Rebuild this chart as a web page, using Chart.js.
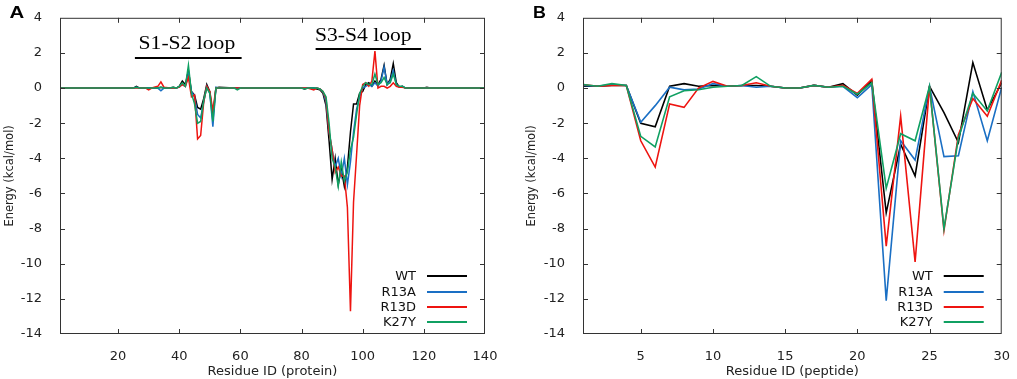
<!DOCTYPE html>
<html><head><meta charset="utf-8">
<script src="https://cdn.jsdelivr.net/npm/chart.js@4.4.1/dist/chart.umd.min.js"></script>
<style>
html,body{margin:0;padding:0;background:#fff;width:1017px;height:379px;overflow:hidden}
#a{position:absolute;left:0;top:0}
#b{position:absolute;left:505px;top:0}
</style></head><body>
<canvas id="a" width="505" height="379"></canvas>
<canvas id="b" width="512" height="379"></canvas>
<script>
// ---------- DATA ----------
const seriesNames = ['WT', 'R13A', 'R13D', 'K27Y'];
const yTicks = [-14, -12, -10, -8, -6, -4, -2, 0, 2, 4];
const xTicksA = [20, 40, 60, 80, 100, 120, 140];
const xTicksB = [5, 10, 15, 20, 25, 30];

// Panel A: residue (protein)
const residueA = [1, 24, 25, 26, 27, 29, 30, 31, 33, 34,
  35, 37, 38, 39, 40, 41, 42, 43, 44, 45,
  46, 47, 48, 49, 50, 51, 52, 53, 58, 59,
  60, 62, 80, 81, 82, 84, 85, 86, 87, 88,
  89, 90, 91, 92, 93, 94, 95, 96, 97, 98,
  99, 100, 101, 102, 103, 104, 105, 106, 107, 108,
  109, 110, 111, 112, 113, 114, 120, 121, 122, 140];
const wtA = [0, 0, 0, 0.1, 0, 0, 0, 0, 0, 0.05,
  0, 0, 0.05, 0, 0.1, 0.4, 0.2, 1.0, -0.2, -0.4,
  -1.1, -1.2, -0.6, 0.2, -0.2, -1.6, 0, 0.05, 0, 0,
  0, 0, 0, -0.05, 0, 0, -0.05, -0.1, -0.3, -1.0,
  -3.0, -5.2, -4.0, -5.5, -4.6, -5.6, -4.5, -2.5, -0.9, -0.9,
  -0.3, -0.2, 0.2, 0.3, 0.1, 0.4, 0.2, 0.5, 1.3, 0.2,
  0.5, 1.4, 0.3, 0.05, 0.1, 0, 0, 0.05, 0, 0];
const r13aA = [0, 0, 0, 0.05, 0, 0, 0, 0, 0, -0.15,
  0, 0, 0, 0, 0.05, 0.2, 0.1, 0.8, -0.2, -0.5,
  -1.5, -1.7, -0.8, 0.1, -0.3, -2.2, 0.05, 0, 0, 0,
  0, 0, 0, 0, 0, 0, 0, -0.05, -0.2, -0.8,
  -2.5, -3.5, -4.5, -4.0, -5.0, -4.0, -5.5, -4.2, -2.5, -1.2,
  -0.5, 0.0, 0.1, 0.2, 0.1, 0.3, 0.1, 0.4, 1.2, 0.2,
  0.4, 1.0, 0.2, 0.05, 0.1, 0, 0, 0, 0, 0];
const r13dA = [0, 0, 0, 0, 0, 0, -0.1, 0, 0.1, 0.35,
  0.05, 0, 0, 0, 0.05, 0.2, 0.1, 0.6, -0.5, -0.4,
  -2.9, -2.7, -0.8, 0.1, -0.2, -1.3, 0, 0, 0, 0,
  0, 0, 0, 0, 0, -0.1, 0, -0.05, -0.2, -0.6,
  -2.5, -3.5, -4.8, -4.5, -5.0, -5.0, -6.8, -12.7, -6.5, -3.8,
  -1.0, 0.2, 0.3, 0.1, 0.4, 2.1, 0.0, 0.1, 0.1, 0.0,
  0.1, 0.3, 0.1, 0.05, 0.05, 0, 0, 0, 0, 0];
const k27yA = [0, 0, 0, 0.05, 0, 0, 0, 0, 0, 0.05,
  0, 0, 0.05, 0, 0.1, 0.3, 0.1, 1.3, -0.3, -0.9,
  -2.0, -1.9, -0.7, 0.0, -0.3, -1.9, 0, 0, 0, -0.1,
  0, 0, 0, -0.05, 0, 0, 0, -0.05, -0.2, -0.5,
  -2.0, -4.0, -4.5, -5.6, -4.2, -5.3, -4.8, -3.5, -2.8, -1.5,
  -0.3, 0.1, 0.3, 0.2, 0.2, 0.8, 0.2, 0.3, 0.6, 0.2,
  0.3, 0.8, 0.2, 0.1, 0.1, 0, 0, 0, 0, 0];

// Panel B: residue (peptide)
const residueB = [1, 2, 3, 4, 5, 6, 7, 8, 9, 10,
  11, 12, 13, 14, 15, 16, 17, 18, 19, 20,
  21, 22, 23, 24, 25, 26, 27, 28, 29, 30];
const wtB = [0.1, 0.1, 0.15, 0.15, -2.0, -2.2, 0.1, 0.25, 0.1, 0.15,
  0.1, 0.15, 0.15, 0.1, 0.0, 0.0, 0.15, 0.05, 0.25, -0.4,
  0.4, -7.1, -3.2, -5.0, 0.1, -1.4, -3.1, 1.45, -1.25, 0.3];
const r13aB = [0.15, 0.1, 0.2, 0.15, -1.95, -1.0, 0.05, -0.1, -0.05, 0.25,
  0.1, 0.15, 0.05, 0.1, 0.0, 0.0, 0.15, 0.05, 0.1, -0.55,
  0.2, -12.1, -3.0, -4.1, 0.1, -3.9, -3.85, -0.2, -3.0, 0.05];
const r13dB = [0.2, 0.1, 0.15, 0.15, -3.0, -4.5, -0.9, -1.1, 0.0, 0.38,
  0.1, 0.15, 0.3, 0.1, 0.0, 0.0, 0.15, 0.05, 0.15, -0.3,
  0.5, -9.0, -1.6, -9.9, 0.1, -8.1, -2.65, -0.6, -1.6, 0.45];
const k27yB = [0.2, 0.1, 0.25, 0.15, -2.75, -3.35, -0.5, -0.15, -0.1, 0.05,
  0.1, 0.15, 0.65, 0.1, 0.0, 0.0, 0.15, 0.05, 0.1, -0.35,
  0.3, -5.7, -2.6, -3.0, 0.1, -8.0, -2.85, -0.3, -1.3, 0.9];

// ---------- STYLE ----------
const colors = ['#000000', '#1a6fc4', '#ee1410', '#10a062'];
const drawOrder = [4, 3, 2, 1];
const FONT = 'DejaVu Sans';

function pts(xs, ys) { return xs.map((x, i) => ({x: x, y: ys[i]})); }
function datasets(xs, arrs, lw) {
  return arrs.map((arr, i) => ({
    label: seriesNames[i], data: pts(xs, arr), borderColor: colors[i],
    backgroundColor: colors[i], borderWidth: lw, pointRadius: 0, tension: 0,
    fill: false, order: drawOrder[i]
  }));
}

function stretchedText(ctx, text, x, y, sx, align) {
  ctx.save();
  ctx.translate(x, y);
  ctx.scale(sx, 1);
  ctx.textAlign = align;
  ctx.fillText(text, 0, 0);
  ctx.restore();
}

const framePlugin = {
  id: 'frame',
  afterDatasetsDraw(chart) {
    const {ctx, chartArea: ca, scales} = chart;
    ctx.save();
    ctx.strokeStyle = '#333';
    ctx.lineWidth = 1;
    ctx.strokeRect(ca.left + 0.5, ca.top + 0.5, ca.right - ca.left - 1, ca.bottom - ca.top - 1);
    const tl = 5;
    ctx.beginPath();
    scales.x.ticks.forEach(t => {
      const px = Math.round(scales.x.getPixelForValue(t.value)) + 0.5;
      if (px < ca.left + 1 || px > ca.right - 1) return;
      ctx.moveTo(px, ca.bottom); ctx.lineTo(px, ca.bottom - tl);
      ctx.moveTo(px, ca.top); ctx.lineTo(px, ca.top + tl);
    });
    scales.y.ticks.forEach(t => {
      const py = Math.round(scales.y.getPixelForValue(t.value)) + 0.5;
      if (py < ca.top + 1 || py > ca.bottom - 1) return;
      ctx.moveTo(ca.left, py); ctx.lineTo(ca.left + tl, py);
      ctx.moveTo(ca.right, py); ctx.lineTo(ca.right - tl, py);
    });
    ctx.stroke();
    // legend
    const offs = [58, 42, 27, 12];
    ctx.font = '13px "' + FONT + '"';
    ctx.textAlign = 'right';
    ctx.textBaseline = 'middle';
    chart.data.datasets.forEach((ds, i) => {
      const y = ca.bottom - offs[i];
      ctx.fillStyle = '#111';
      ctx.fillText(ds.label, ca.right - 69, y + 0.5);
      ctx.strokeStyle = ds.borderColor;
      ctx.lineWidth = 2;
      ctx.beginPath();
      ctx.moveTo(ca.right - 58, y); ctx.lineTo(ca.right - 18, y);
      ctx.stroke();
    });
    // panel letter
    const o = chart.options.plugins.frame;
    ctx.fillStyle = '#000';
    ctx.font = 'bold 17px "Liberation Sans"';
    ctx.textBaseline = 'alphabetic';
    stretchedText(ctx, o.letter, o.letterX, 17.5, o.letterScale, 'left');
    // loop annotations
    (o.loops || []).forEach(l => {
      const x1 = scales.x.getPixelForValue(l.from), x2 = scales.x.getPixelForValue(l.to);
      const yb = scales.y.getPixelForValue(l.barY), yt = scales.y.getPixelForValue(l.textY);
      const xt = scales.x.getPixelForValue(l.textX);
      ctx.strokeStyle = '#000';
      ctx.lineWidth = 2;
      ctx.beginPath(); ctx.moveTo(x1, yb); ctx.lineTo(x2, yb); ctx.stroke();
      ctx.font = '18px "Liberation Serif"';
      stretchedText(ctx, l.text, xt, yt, 1.2, 'center');
    });
    ctx.restore();
  }
};

function makeOptions(xmin, xmax, xticks, yAxisW, padRight, xTitle, frameOpts) {
  return {
    responsive: false, animation: false, events: [],
    layout: {padding: {left: 0, right: padRight, top: 13, bottom: 0}},
    plugins: {legend: {display: false}, tooltip: {enabled: false}, frame: frameOpts},
    scales: {
      x: {
        type: 'linear', min: xmin, max: xmax,
        grid: {display: false}, border: {display: false},
        afterBuildTicks: s => { s.ticks = xticks.map(v => ({value: v})); },
        afterFit: s => { s.height = 45; },
        ticks: {color: '#222', font: {family: FONT, size: 13}, padding: 7, maxRotation: 0,
          callback: v => String(v)},
        title: {display: true, text: xTitle, color: '#222', font: {family: FONT, size: 13},
          padding: {top: 0, bottom: 0}}
      },
      y: {
        type: 'linear', min: -14, max: 4,
        grid: {display: false}, border: {display: false},
        afterBuildTicks: s => { s.ticks = yTicks.map(v => ({value: v})); },
        afterFit: s => { s.width = yAxisW; },
        ticks: {color: '#222', font: {family: FONT, size: 13}, padding: 10,
          callback: v => String(v)},
        title: {display: true, text: 'Energy (kcal/mol)', color: '#222',
          font: {family: FONT, size: 11.5}, padding: {top: frameOpts.titlePad, bottom: 0}}
      }
    }
  };
}

new Chart(document.getElementById('a'), {
  type: 'line',
  data: {datasets: datasets(residueA, [wtA, r13aA, r13dA, k27yA], 1.5)},
  options: makeOptions(1, 140, xTicksA, 60, 20, 'Residue ID (protein)', {
    letter: 'A', letterX: 9.5, letterScale: 1.2, titlePad: 3,
    loops: [
      {text: 'S1-S2 loop', textX: 42.5, from: 25.5, to: 60.4, barY: 1.71, textY: 2.2},
      {text: 'S3-S4 loop', textX: 100.2, from: 84.6, to: 119.1, barY: 2.23, textY: 2.66}
    ]
  }),
  plugins: [framePlugin]
});

new Chart(document.getElementById('b'), {
  type: 'line',
  data: {datasets: datasets(residueB, [wtB, r13aB, r13dB, k27yB], 1.6)},
  options: makeOptions(1, 30, xTicksB, 78, 9, 'Residue ID (peptide)', {
    letter: 'B', letterX: 28, letterScale: 1.05, titlePad: 20, loops: []
  }),
  plugins: [framePlugin]
});
</script>
</body></html>
